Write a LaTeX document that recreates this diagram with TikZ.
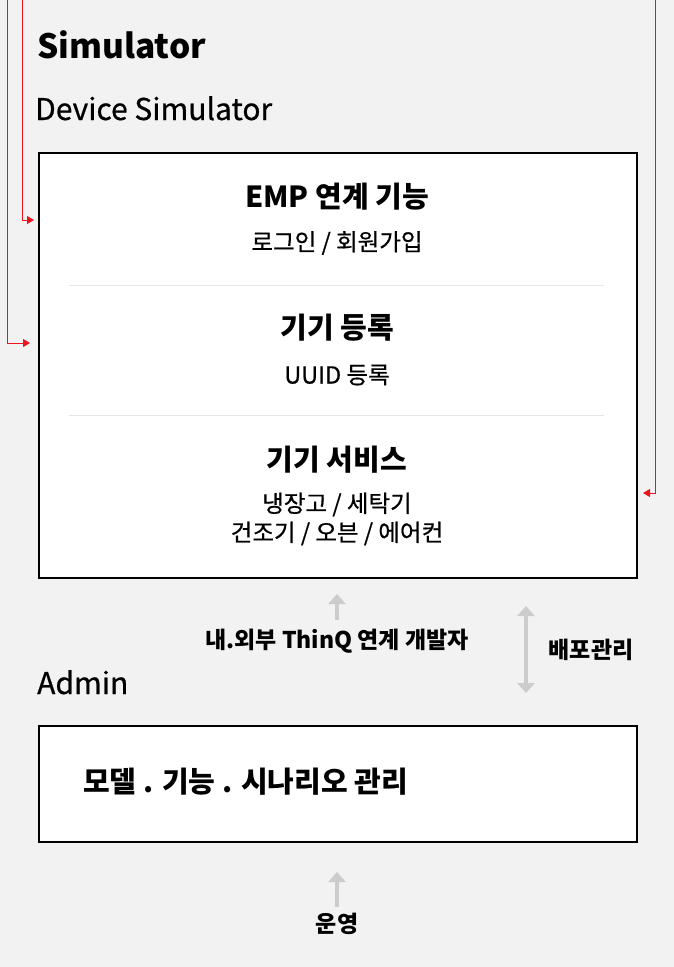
\documentclass[tikz,border=0pt]{standalone}
\usepackage{fontspec}
\setmainfont{Noto Sans CJK KR}
\newfontfamily\medfont[FakeBold=0.6]{Noto Sans CJK KR}
\usetikzlibrary{arrows.meta}
\definecolor{bg}{HTML}{F2F2F2}
\definecolor{arrgray}{HTML}{CCCCCC}
\definecolor{divgray}{HTML}{E6E6E6}
\definecolor{redline}{HTML}{E8141E}
\tikzset{
  px/.style={x=1pt,y=-1pt},
  panel/.style={draw=black,line width=2pt,fill=white},
  heading/.style={font=\fontsize{33.5}{38}\selectfont\bfseries,anchor=base west,inner sep=0},
  subhead/.style={font=\fontsize{30}{34}\selectfont\medfont,anchor=base west,inner sep=0},
  title/.style={font=\fontsize{29}{34}\selectfont\bfseries,inner sep=0},
  item/.style={font=\fontsize{23.5}{29}\selectfont\medfont,inner sep=0,align=center},
  lbl/.style={font=\fontsize{23}{26}\selectfont\bfseries,inner sep=0},
  grayarrow/.style={draw=arrgray,line width=4pt,-{Triangle[length=10pt,width=17pt]}},
  grayboth/.style={draw=arrgray,line width=4pt,{Triangle[length=10pt,width=17pt]}-{Triangle[length=10pt,width=17pt]}},
  redarrow/.style={draw=redline,line width=1pt,-{Triangle[length=7pt,width=8pt]}},
}
\begin{document}
\begin{tikzpicture}[px]
\fill[bg] (0,0) rectangle (674,967);
\useasboundingbox (0,0) rectangle (674,967);

\node[heading] (sim) at (37,58) {Simulator};
\node[subhead] (dev) at (35,120) {Device Simulator};

\node[panel,minimum width=598pt,minimum height=425pt,anchor=north west] (box) at (38,152) {};
\draw[divgray,line width=1pt] (69,285) -- (604,285);
\draw[divgray,line width=1pt] (69,415) -- (604,415);

\node[title] (emp) at (337,197) {EMP 연계 기능};
\node[item] (login) at (337,243) {로그인 / 회원가입};
\node[title] (reg) at (337,328) {기기 등록};
\node[item] (uuid) at (337,375) {UUID 등록};
\node[title] (svc) at (337,460) {기기 서비스};
\node[item] (svclist) at (337,519) {냉장고 / 세탁기\\건조기 / 오븐 / 에어컨};

% red connectors
\coordinate (r1) at (22,0);
\coordinate (r1t) at (34,220);
\coordinate (r2) at (7,0);
\coordinate (r2t) at (30,343);
\coordinate (r3) at (655,0);
\coordinate (r3t) at (643,493);
\draw[redarrow] (r1) |- (r1t);
\draw[redarrow] (r2) |- (r2t);
\draw[redarrow] (r3) |- (r3t);

% middle
\coordinate (a1s) at (337,620);
\coordinate (a1e) at (337,594);
\draw[grayarrow] (a1s) -- (a1e);
\node[lbl] (dev2) at (337,641) {내.외부 ThinQ 연계 개발자};
\coordinate (a2s) at (526,606);
\coordinate (a2e) at (526,693);
\draw[grayboth] (a2s) -- (a2e);
\node[lbl] (deploy) at (591,650) {배포관리};

\node[subhead] (admin) at (37,694) {Admin};
\node[panel,minimum width=598pt,minimum height=116pt,anchor=north west] (abox) at (38,725) {};
\node[title,anchor=west] (model) at (83,782) {모델 . 기능 . 시나리오 관리};

\coordinate (a3s) at (337,907);
\coordinate (a3e) at (337,872);
\draw[grayarrow] (a3s) -- (a3e);
\node[lbl] (ops) at (337,924) {운영};
\end{tikzpicture}
\end{document}
